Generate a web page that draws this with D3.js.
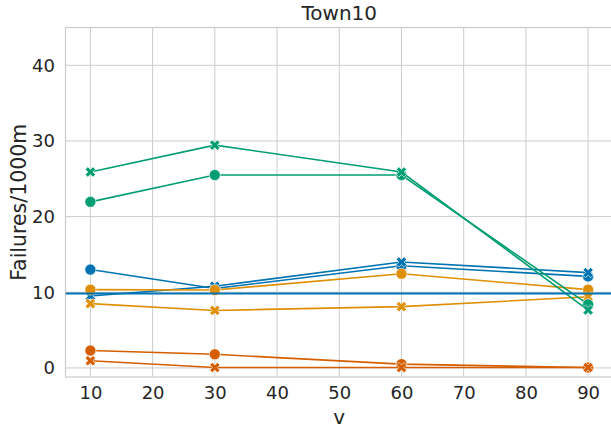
<!DOCTYPE html>
<html>
<head>
<meta charset="utf-8">
<script src="https://cdn.jsdelivr.net/npm/d3@7"></script>
<style>
  body { margin: 0; background: #fff; }
  text { font-family: "DejaVu Sans", sans-serif; fill: #262626; }
</style>
</head>
<body>
<svg id="chart" width="611" height="428"></svg>
<script>
// Speed levels on the x axis
const speeds = [10, 30, 60, 90];

// Failures per 1000 m for each configuration
const blueCircle   = [13.0, 10.5, 13.5, 12.1];
const blueCross    = [9.5, 10.8, 14.0, 12.6];
const orangeCircle = [10.35, 10.3, 12.45, 10.35];
const orangeCross  = [8.5, 7.6, 8.1, 9.4];
const greenCircle  = [21.95, 25.5, 25.5, 8.4];
const greenCross   = [25.9, 29.45, 25.9, 7.65];
const redCircle    = [2.3, 1.8, 0.5, 0.05];
const redCross     = [0.95, 0.05, 0.05, 0.05];

// Reference level drawn across the whole axes
const baseline = 9.85;

const xTicks = [10, 20, 30, 40, 50, 60, 70, 80, 90];
const yTicks = [0, 10, 20, 30, 40];

const colors = { blue: "#0173B2", orange: "#DE8F05", green: "#029E73", red: "#D55E00" };

const series = [
  { values: blueCircle,   color: colors.blue,   marker: "o" },
  { values: blueCross,    color: colors.blue,   marker: "x" },
  { values: orangeCircle, color: colors.orange, marker: "o" },
  { values: orangeCross,  color: colors.orange, marker: "x" },
  { values: greenCircle,  color: colors.green,  marker: "o" },
  { values: greenCross,   color: colors.green,  marker: "x" },
  { values: redCircle,    color: colors.red,    marker: "o" },
  { values: redCross,     color: colors.red,    marker: "x" }
];

const svg = d3.select("#chart");
const pLeft = 65.5, pRight = 613, pTop = 27.5, pBottom = 377;

const x = d3.scaleLinear().domain([6, 94]).range([pLeft, pRight]);
const y = d3.scaleLinear().domain([-1.2, 45]).range([pBottom, pTop]);

svg.append("defs").append("clipPath").attr("id", "plotclip")
  .append("rect").attr("x", pLeft).attr("y", pTop)
  .attr("width", pRight - pLeft).attr("height", pBottom - pTop);

// Grid lines
const grid = svg.append("g");
grid.selectAll(".vg").data(xTicks).join("line")
  .attr("x1", d => x(d)).attr("x2", d => x(d))
  .attr("y1", pTop).attr("y2", pBottom)
  .attr("stroke", "#cccccc").attr("stroke-width", 1);
grid.selectAll(".hg").data(yTicks).join("line")
  .attr("x1", pLeft).attr("x2", pRight)
  .attr("y1", d => y(d)).attr("y2", d => y(d))
  .attr("stroke", "#cccccc").attr("stroke-width", 1);

// Frame
svg.append("rect").attr("x", pLeft).attr("y", pTop)
  .attr("width", pRight - pLeft).attr("height", pBottom - pTop)
  .attr("fill", "none").attr("stroke", "#cccccc").attr("stroke-width", 1.2);

// Axes (labels only; ticks hidden)
const xAxis = svg.append("g").attr("transform", `translate(0,${pBottom})`)
  .call(d3.axisBottom(x).tickValues(xTicks).tickSize(0).tickPadding(9));
const yAxis = svg.append("g").attr("transform", `translate(${pLeft},0)`)
  .call(d3.axisLeft(y).tickValues(yTicks).tickSize(0).tickPadding(10.5));
[xAxis, yAxis].forEach(a => {
  a.select(".domain").remove();
  a.selectAll("text").attr("font-size", 18).attr("fill", "#262626")
    .attr("font-family", "DejaVu Sans, sans-serif");
});

const plot = svg.append("g").attr("clip-path", "url(#plotclip)");

const line = d3.line().x((d, i) => x(speeds[i])).y(d => y(d));
const crossPath = d3.symbol().type(d3.symbolCross).size(66)();

series.forEach(s => {
  const g = plot.append("g");
  g.append("path").datum(s.values)
    .attr("d", line).attr("fill", "none")
    .attr("stroke", s.color).attr("stroke-width", 1.6);
  const pts = g.selectAll(".m").data(s.values).join("g")
    .attr("transform", (d, i) => `translate(${x(speeds[i])},${y(d)})`);
  if (s.marker === "o") {
    pts.append("circle").attr("r", 5.5)
      .attr("fill", s.color).attr("stroke", "#fff").attr("stroke-width", 0.6);
  } else {
    pts.append("path").attr("d", crossPath).attr("transform", "rotate(45)")
      .attr("fill", s.color).attr("stroke", "#fff").attr("stroke-width", 0.6);
  }
});

// Horizontal reference line
plot.append("line")
  .attr("x1", pLeft).attr("x2", pRight)
  .attr("y1", y(baseline)).attr("y2", y(baseline))
  .attr("stroke", colors.blue).attr("stroke-width", 2);

// Title and axis labels
svg.append("text").attr("x", (pLeft + pRight) / 2).attr("y", 20)
  .attr("text-anchor", "middle").attr("font-size", 20).text("Town10");
svg.append("text").attr("x", (pLeft + pRight) / 2).attr("y", 424)
  .attr("text-anchor", "middle").attr("font-size", 20).text("v");
svg.append("text")
  .attr("transform", `translate(26,${(pTop + pBottom) / 2}) rotate(-90)`)
  .attr("text-anchor", "middle").attr("font-size", 20.5).text("Failures/1000m");
</script>
</body>
</html>
